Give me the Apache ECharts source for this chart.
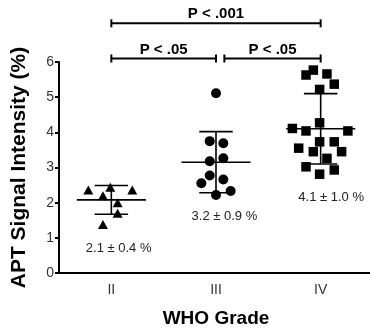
<!DOCTYPE html>
<html>
<head>
<meta charset="utf-8">
<script src="https://cdn.jsdelivr.net/npm/echarts@6/dist/echarts.min.js"></script>
<style>
  html, body { margin: 0; padding: 0; background: #fff; }
  #main { width: 370px; height: 328px; }
</style>
</head>
<body>
<div id="main"></div>
<script>
// grades on the x axis
const grades = ["II", "III", "IV"];
const yTicks = [0, 1, 2, 3, 4, 5, 6];

// individual patients, [x position (jittered around category index), APT %]
const gradeII = [[-0.22, 2.36], [-0.01, 2.44], [0.2, 2.36], [-0.08, 2.2], [0.06, 2.0], [0.06, 1.7], [-0.08, 1.38]];
const gradeIII = [[1.0, 5.11], [0.94, 3.75], [1.07, 3.69], [0.94, 3.18], [1.07, 3.26], [0.94, 2.77], [1.07, 2.66], [0.86, 2.55], [1.0, 2.22], [1.14, 2.33]];
const gradeIV = [[1.86, 5.63], [1.93, 5.77], [2.06, 5.66], [2.13, 5.37], [1.99, 5.22], [1.73, 4.11], [1.86, 4.04], [1.99, 4.27], [2.26, 4.04],
  [1.99, 3.73], [2.13, 3.73], [1.79, 3.55], [1.93, 3.45], [2.2, 3.45], [2.06, 3.26], [1.86, 3.02], [2.13, 2.93], [1.99, 2.81]];

// mean and sd bars as drawn
const means = [2.08, 3.15, 4.1];
const sds = [0.41, 0.87, 1.0];
const summaryText = ["2.1 ± 0.4 %", "3.2 ± 0.9 %", "4.1 ± 1.0 %"];
const summaryPos = [[0.07, 0.7], [1.08, 1.6], [2.1, 2.15]];

// significance brackets
const bracketFrom = [0, 1.08, 0];
const bracketTo = [1.0, 2.0, 2.0];
const bracketLevel = [6.1, 6.1, 7.1];
const bracketText = ["P < .05", "P < .05", "P < .001"];

const chart = echarts.init(document.getElementById("main"));

const font = "Liberation Sans, Arial, sans-serif";

chart.setOption({
  animation: false,
  grid: { left: 59, right: -3, top: 62, bottom: 55, containLabel: false, outerBoundsMode: "none" },
  xAxis: [
    {
      type: "category",
      data: grades,
      boundaryGap: true,
      name: "WHO Grade",
      nameLocation: "middle",
      nameGap: 36,
      nameTextStyle: { fontFamily: font, fontSize: 19, fontWeight: "bold", color: "#000" },
      axisLine: { lineStyle: { color: "#000", width: 2 } },
      axisTick: { alignWithLabel: true, length: 4, lineStyle: { color: "#000", width: 2 } },
      axisLabel: { fontFamily: font, fontSize: 14, color: "#333", margin: 10 },
      splitLine: { show: false },
    },
    {
      type: "value",
      min: -0.5,
      max: 2.5,
      show: false,
    },
  ],
  yAxis: {
    type: "value",
    min: 0,
    max: 6,
    interval: 1,
    name: "APT Signal Intensity (%)",
    nameLocation: "middle",
    nameGap: 29,
    nameTextStyle: { fontFamily: font, fontSize: 21, fontWeight: "bold", color: "#000" },
    axisLine: { show: true, onZero: false, lineStyle: { color: "#000", width: 2 } },
    axisTick: { show: true, length: 4, lineStyle: { color: "#000", width: 2 } },
    axisLabel: {
      fontFamily: font, fontSize: 14, color: "#333", margin: 5,
      formatter: (v) => (yTicks.includes(v) ? String(v) : ""),
    },
    splitLine: { show: false },
  },
  series: [
    {
      type: "custom",
      xAxisIndex: 1,
      clip: false,
      data: means.map((m, i) => [i, m, sds[i]]),
      renderItem: (params, api) => {
        const x = api.value(0), m = api.value(1), s = api.value(2);
        const a = api.coord([x - 0.33, m]), b = api.coord([x + 0.33, m]);
        const top = api.coord([x, m + s]), bot = api.coord([x, m - s]);
        const capL = api.coord([x - 0.16, m + s])[0], capR = api.coord([x + 0.16, m + s])[0];
        const st = { stroke: "#000", lineWidth: 1.6 };
        return {
          type: "group",
          children: [
            { type: "line", shape: { x1: a[0], y1: a[1], x2: b[0], y2: b[1] }, style: st },
            { type: "line", shape: { x1: top[0], y1: top[1], x2: bot[0], y2: bot[1] }, style: st },
            { type: "line", shape: { x1: capL, y1: top[1], x2: capR, y2: top[1] }, style: st },
            { type: "line", shape: { x1: capL, y1: bot[1], x2: capR, y2: bot[1] }, style: st },
          ],
        };
      },
      z: 1,
    },
    {
      type: "scatter",
      xAxisIndex: 1,
      symbol: "triangle",
      symbolSize: [10, 9],
      itemStyle: { color: "#000", opacity: 1 },
      data: gradeII,
      z: 3,
    },
    {
      type: "scatter",
      xAxisIndex: 1,
      symbol: "circle",
      symbolSize: 10,
      itemStyle: { color: "#000", opacity: 1 },
      data: gradeIII,
      z: 3,
    },
    {
      type: "scatter",
      xAxisIndex: 1,
      symbol: "rect",
      symbolSize: 9.5,
      itemStyle: { color: "#000", opacity: 1 },
      data: gradeIV,
      z: 3,
    },
    {
      type: "custom",
      xAxisIndex: 1,
      clip: false,
      data: summaryPos.map((p, i) => [p[0], p[1], i]),
      renderItem: (params, api) => {
        const p = api.coord([api.value(0), api.value(1)]);
        return {
          type: "text",
          x: p[0], y: p[1],
          style: {
            text: summaryText[api.value(2)],
            fill: "#222",
            font: "13px " + font,
            align: "center",
            verticalAlign: "middle",
          },
        };
      },
    },
    {
      type: "custom",
      xAxisIndex: 1,
      clip: false,
      data: bracketLevel.map((l, i) => [bracketFrom[i], bracketTo[i], l, i]),
      renderItem: (params, api) => {
        const a = api.coord([api.value(0), api.value(2)]);
        const b = api.coord([api.value(1), api.value(2)]);
        const st = { stroke: "#000", lineWidth: 2 };
        return {
          type: "group",
          children: [
            { type: "line", shape: { x1: a[0], y1: a[1], x2: b[0], y2: b[1] }, style: st },
            { type: "line", shape: { x1: a[0], y1: a[1] - 4, x2: a[0], y2: a[1] + 4 }, style: st },
            { type: "line", shape: { x1: b[0], y1: b[1] - 4, x2: b[0], y2: b[1] + 4 }, style: st },
            {
              type: "text",
              x: (a[0] + b[0]) / 2, y: a[1] - 9,
              style: {
                text: bracketText[api.value(3)],
                fill: "#000",
                font: "bold 15px " + font,
                align: "center",
                verticalAlign: "middle",
              },
            },
          ],
        };
      },
    },
  ],
});
</script>
</body>
</html>
